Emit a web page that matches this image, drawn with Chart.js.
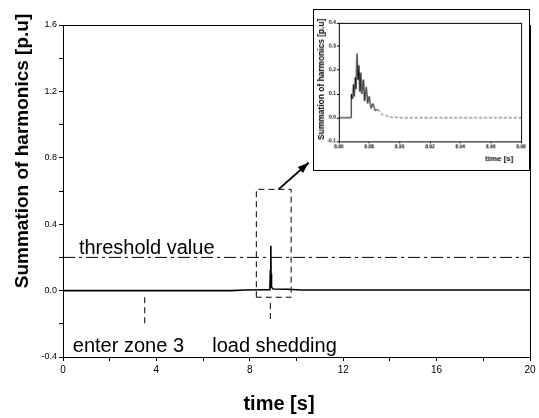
<!DOCTYPE html>
<html>
<head>
<meta charset="utf-8">
<script src="https://cdn.jsdelivr.net/npm/chart.js@4.4.1/dist/chart.umd.min.js"></script>
<style>
  html, body { margin: 0; padding: 0; background: #fff; }
  #wrap { position: relative; width: 539px; height: 418px; }
  #mainChart { position: absolute; left: 0; top: 0; }
  #insetChart { position: absolute; left: 313px; top: 9px; background: #fff; border: 1px solid #000; }
</style>
</head>
<body>
<div id="wrap">
  <canvas id="mainChart" width="539" height="418"></canvas>
  <canvas id="insetChart" width="217" height="162"></canvas>
</div>
<script>
// main trace: summation of harmonics over the whole run
const mainTime  = [0, 3.5, 7.2, 7.8, 8.6, 8.86, 8.88, 8.90, 8.91, 8.93, 9.0, 9.6, 10.2, 20];
const mainValue = [0, 0, 0, 0.004, 0.005, 0.005, 0.12, 0.27, 0.10, 0.02, 0.01, 0.008, 0.004, 0.004];

// zoomed view of the load shedding transient
const insetTime  = [8.860, 8.868, 8.8682, 8.8690, 8.8696, 8.8702, 8.8708, 8.8714, 8.8720, 8.8726,
                    8.8732, 8.8738, 8.8745, 8.8752, 8.8762, 8.8770, 8.8780, 8.8790, 8.8800, 8.8812,
                    8.8825, 8.8840, 8.8858, 8.8880, 8.8910, 8.8950, 8.9000, 8.98];
const insetValue = [0, 0, 0.10, 0.08, 0.14, 0.09, 0.17, 0.12, 0.27, 0.16,
                    0.22, 0.11, 0.19, 0.10, 0.16, 0.07, 0.13, 0.06, 0.09, 0.04,
                    0.06, 0.03, 0.035, 0.015, 0.008, 0.002, 0, 0];

const thresholdValue = 0.2;
const zone3Time = 3.5;
const loadSheddingTime = 8.88;
const zoomWindow = { t0: 8.28, t1: 9.77, y0: -0.04, y1: 0.61 };
const arrowFrom = { x: 9.23, y: 0.61 };
const arrowTo = { x: 10.52, y: 0.77 };

const labels = [
  { text: 'threshold value', x: 0.68, y: 0.22 },
  { text: 'enter zone 3', x: 0.42, y: -0.37 },
  { text: 'load shedding', x: 6.39, y: -0.37 }
];

const toPoints = (xs, ys) => xs.map((t, i) => ({ x: t, y: ys[i] }));

const signalData = toPoints(mainTime, mainValue);
const thresholdData = [{ x: 0, y: thresholdValue }, { x: 20, y: thresholdValue }];
const zoneMarker = [{ x: zone3Time, y: -0.04 }, { x: zone3Time, y: -0.2 }];
const shedMarker = [{ x: loadSheddingTime, y: -0.075 }, { x: loadSheddingTime, y: -0.19 }];
const boxData = [
  { x: zoomWindow.t0, y: zoomWindow.y0 }, { x: zoomWindow.t0, y: zoomWindow.y1 },
  { x: zoomWindow.t1, y: zoomWindow.y1 }, { x: zoomWindow.t1, y: zoomWindow.y0 },
  { x: zoomWindow.t0, y: zoomWindow.y0 }
];
const arrowData = [arrowFrom, arrowTo];

const isMultiple = (v, step) => Math.abs(v / step - Math.round(v / step)) < 1e-6;

const lineStyle = (extra) => Object.assign({
  borderColor: '#000', borderWidth: 1, pointRadius: 0, fill: false, tension: 0
}, extra);

const mainDecor = {
  id: 'mainDecor',
  afterDraw(chart) {
    const { ctx, chartArea: a, scales: { x, y } } = chart;
    ctx.save();
    ctx.strokeStyle = '#000';
    ctx.lineWidth = 1;
    ctx.strokeRect(a.left + 0.5, a.top + 0.5, a.right - a.left, a.bottom - a.top);

    // arrow head
    const x1 = x.getPixelForValue(arrowFrom.x), y1 = y.getPixelForValue(arrowFrom.y);
    const x2 = x.getPixelForValue(arrowTo.x), y2 = y.getPixelForValue(arrowTo.y);
    const ang = Math.atan2(y2 - y1, x2 - x1);
    ctx.fillStyle = '#000';
    ctx.beginPath();
    ctx.moveTo(x2, y2);
    ctx.lineTo(x2 - 11 * Math.cos(ang) + 4 * Math.sin(ang), y2 - 11 * Math.sin(ang) - 4 * Math.cos(ang));
    ctx.lineTo(x2 - 11 * Math.cos(ang) - 4 * Math.sin(ang), y2 - 11 * Math.sin(ang) + 4 * Math.cos(ang));
    ctx.closePath();
    ctx.fill();

    ctx.font = '20px Arial, "Liberation Sans"';
    ctx.textBaseline = 'alphabetic';
    ctx.textAlign = 'left';
    labels.forEach(l => ctx.fillText(l.text, x.getPixelForValue(l.x), y.getPixelForValue(l.y)));

    // axis titles
    ctx.font = 'bold 20px Arial, "Liberation Sans"';
    ctx.textAlign = 'center';
    ctx.textBaseline = 'middle';
    ctx.fillText('time [s]', 279, 404);
    ctx.translate(23, 151);
    ctx.rotate(-Math.PI / 2);
    ctx.font = 'bold 19px Arial, "Liberation Sans"';
    ctx.fillText('Summation of harmonics [p.u]', 0, 0);
    ctx.restore();
  }
};

const axisCommon = {
  grid: { drawOnChartArea: false, drawTicks: true, tickLength: 4, color: '#000' },
  border: { display: true, color: '#000', width: 1 }
};

new Chart(document.getElementById('mainChart'), {
  type: 'line',
  data: {
    datasets: [
      lineStyle({ data: signalData, borderWidth: 1.6 }),
      lineStyle({ data: thresholdData, borderDash: [12, 4, 3, 4] }),
      lineStyle({ data: zoneMarker, borderDash: [6, 4] }),
      lineStyle({ data: shedMarker, borderDash: [6, 4] }),
      lineStyle({ data: boxData, borderDash: [6, 4] }),
      lineStyle({ data: arrowData, borderWidth: 1.8 })
    ]
  },
  options: {
    responsive: false,
    animation: false,
    devicePixelRatio: 1,
    layout: { padding: { top: 25, right: 9, left: 0, bottom: 0 } },
    plugins: { legend: { display: false }, tooltip: { enabled: false } },
    scales: {
      x: Object.assign({
        type: 'linear', min: 0, max: 20,
        afterFit: s => { s.height = 61; },
        ticks: {
          stepSize: 2, color: '#000', padding: 3, maxRotation: 0,
          font: { family: 'Arial', size: 10 },
          callback: v => isMultiple(v, 4) ? String(v) : ''
        }
      }, axisCommon),
      y: Object.assign({
        type: 'linear', min: -0.4, max: 1.6,
        afterFit: s => { s.width = 63; },
        ticks: {
          stepSize: 0.2, color: '#000', padding: 2,
          font: { family: 'Arial', size: 9 },
          callback: v => isMultiple(v, 0.4) ? (Math.abs(v) < 1e-9 ? '0.0' : v.toFixed(1)) : ''
        }
      }, axisCommon)
    }
  },
  plugins: [mainDecor]
});

// inset chart
const insetDecor = {
  id: 'insetDecor',
  afterDraw(chart) {
    const { ctx, chartArea: a } = chart;
    ctx.save();
    ctx.strokeStyle = '#000';
    ctx.lineWidth = 1;
    ctx.strokeRect(a.left + 0.5, a.top + 0.5, a.right - a.left, a.bottom - a.top);
    ctx.fillStyle = '#000';
    ctx.font = 'bold 8px Arial, "Liberation Sans"';
    ctx.textAlign = 'center';
    ctx.textBaseline = 'middle';
    ctx.fillText('time [s]', 187, 151);
    ctx.translate(8, 70);
    ctx.rotate(-Math.PI / 2);
    ctx.font = 'bold 8.5px Arial, "Liberation Sans"';
    ctx.fillText('Summation of harmonics [p.u]', 0, 0);
    ctx.restore();
  }
};

const insetAxis = {
  grid: { drawOnChartArea: false, drawTicks: true, tickLength: 2, color: '#000' },
  border: { display: true, color: '#000', width: 1 }
};

new Chart(document.getElementById('insetChart'), {
  type: 'line',
  data: {
    datasets: [
      lineStyle({
        data: toPoints(insetTime, insetValue),
        segment: { borderDash: ctx => ctx.p0.parsed.x >= 8.8858 ? [3, 2] : undefined,
                   borderColor: ctx => ctx.p0.parsed.x >= 8.8858 ? '#555' : '#000' }
      })
    ]
  },
  options: {
    responsive: false,
    animation: false,
    devicePixelRatio: 1,
    layout: { padding: { top: 13, right: 8, left: 0, bottom: 0 } },
    plugins: { legend: { display: false }, tooltip: { enabled: false } },
    scales: {
      x: Object.assign({
        type: 'linear', min: 8.86, max: 8.98,
        afterFit: s => { s.height = 29; },
        ticks: {
          stepSize: 0.02, color: '#000', padding: 1, maxRotation: 0, autoSkip: false,
          font: { family: 'Arial', size: 5, weight: 'bold' },
          callback: v => v.toFixed(2)
        }
      }, insetAxis),
      y: Object.assign({
        type: 'linear', min: -0.1, max: 0.4,
        afterFit: s => { s.width = 25; },
        ticks: {
          stepSize: 0.1, color: '#000', padding: 1,
          font: { family: 'Arial', size: 5, weight: 'bold' },
          callback: v => Math.abs(v) < 1e-9 ? '0.0' : v.toFixed(1)
        }
      }, insetAxis)
    }
  },
  plugins: [insetDecor]
});
</script>
</body>
</html>
